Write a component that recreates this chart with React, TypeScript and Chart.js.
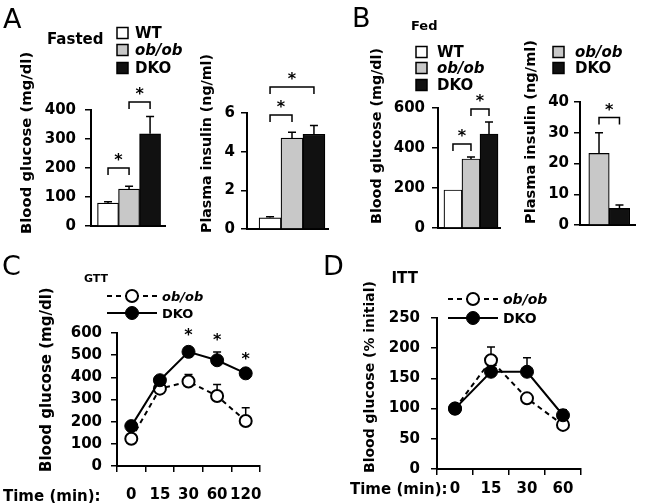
import React, { useEffect, useRef } from 'react';
import { Chart, registerables } from 'chart.js';
Chart.register(...registerables);

const FONT = '"DejaVu Sans", "Liberation Sans", sans-serif';

// ---------------- data ----------------
const groupsAll = ['WT', 'ob/ob', 'DKO'];
const fastedGlucose = [79, 127, 318];
const fastedGlucoseErr = [5, 10, 60];
const fastedGlucoseSig = [[0, 1, 200], [1, 2, 428]];
const fastedInsulin = [0.58, 4.7, 4.9];
const fastedInsulinErr = [0.05, 0.3, 0.45];
const fastedInsulinSig = [[0, 1, 5.9], [0, 2, 7.35]];

const fedGlucose = [190, 345, 470];
const fedGlucoseErr = [0, 10, 60];
const fedGlucoseSig = [[0, 1, 420], [1, 2, 595]];
const groupsMutant = ['ob/ob', 'DKO'];
const fedInsulin = [23.3, 5.4];
const fedInsulinErr = [6.7, 1.1];
const fedInsulinSig = [[0, 1, 35]];

const gttTimes = ['0', '15', '30', '60', '120'];
const gttObOb = [123, 349, 381, 316, 203];
const gttObObErr = [0, 0, 32, 52, 60];
const gttDko = [180, 387, 515, 477, 418];
const gttDkoErr = [12, 12, 18, 37, 8];
const gttSig = [false, false, true, true, true];

const ittTimes = ['0', '15', '30', '60'];
const ittObOb = [100, 180, 117, 73];
const ittObObErr = [0, 22, 0, 0];
const ittDko = [100, 161, 161, 89];
const ittDkoErr = [0, 0, 23, 9];

// ---------------- styles ----------------
const GROUP_COLORS: Record<string, string> = { WT: '#ffffff', 'ob/ob': '#c8c8c8', DKO: '#111111' };
const tickFont = { family: FONT, size: 15, weight: 'bold' as const };

type Rect = { x: number; y: number; w: number; h: number };
type Area = { l: number; t: number; r: number; b: number };

function layoutFor(rect: Rect, area: Area) {
  return {
    padding: { left: 0, top: area.t - rect.y, right: rect.x + rect.w - area.r, bottom: 0 },
    yWidth: area.l - rect.x,
    xHeight: rect.y + rect.h - area.b,
  };
}

function yScaleOpts(max: number, step: number, yWidth: number, pad: number) {
  return {
    min: 0,
    max,
    ticks: { stepSize: step, color: '#000', font: tickFont, padding: pad },
    grid: { display: true, drawOnChartArea: false, drawTicks: true, tickLength: 6, color: '#000', lineWidth: 1.5 },
    border: { display: true, color: '#000', width: 2 },
    afterFit: (s: any) => { s.width = yWidth; },
  };
}

const vTitlePlugin = (text: string, x: number, bottom: number, size: number) => ({
  id: 'vtitle',
  afterDraw(chart: any) {
    const ctx = chart.ctx;
    ctx.save();
    ctx.translate(x, bottom);
    ctx.rotate(-Math.PI / 2);
    ctx.font = `bold ${size}px ${FONT}`;
    ctx.fillStyle = '#000';
    ctx.textAlign = 'left';
    ctx.textBaseline = 'middle';
    ctx.fillText(text, 0, 0);
    ctx.restore();
  },
});

const errPlugin = (errs: number[][], cap = 8) => ({
  id: 'errbars',
  beforeDatasetsDraw(chart: any) {
    const ctx = chart.ctx;
    const ys = chart.scales.y;
    ctx.save();
    ctx.strokeStyle = '#000';
    ctx.lineWidth = 1.5;
    chart.data.datasets.forEach((ds: any, di: number) => {
      const meta = chart.getDatasetMeta(di);
      meta.data.forEach((el: any, i: number) => {
        const e = errs[di] ? errs[di][i] : 0;
        if (!e) return;
        const raw = ds.data[i];
        const val = typeof raw === 'number' ? raw : raw.y;
        const x = el.x;
        const y0 = ys.getPixelForValue(val);
        const y1 = ys.getPixelForValue(val + e);
        ctx.beginPath();
        ctx.moveTo(x, y0);
        ctx.lineTo(x, y1);
        ctx.moveTo(x - cap / 2, y1);
        ctx.lineTo(x + cap / 2, y1);
        ctx.stroke();
      });
    });
    ctx.restore();
  },
});

const drawStar = (ctx: any, x: number, cy: number) => {
  ctx.font = `bold 16px ${FONT}`;
  ctx.textAlign = 'center';
  ctx.textBaseline = 'alphabetic';
  ctx.fillStyle = '#000';
  ctx.fillText('*', x, cy + 0.59 * 16);
};

const bracketPlugin = (sig: number[][]) => ({
  id: 'brackets',
  afterDatasetsDraw(chart: any) {
    const ctx = chart.ctx;
    const ys = chart.scales.y;
    const meta = chart.getDatasetMeta(0);
    ctx.save();
    ctx.strokeStyle = '#000';
    ctx.lineWidth = 1.5;
    for (const [i, j, lvl] of sig) {
      const xi = meta.data[i].x;
      const xj = meta.data[j].x;
      const y = ys.getPixelForValue(lvl);
      ctx.beginPath();
      ctx.moveTo(xi, y + 7);
      ctx.lineTo(xi, y);
      ctx.lineTo(xj, y);
      ctx.lineTo(xj, y + 7);
      ctx.stroke();
      drawStar(ctx, (xi + xj) / 2, y - 12);
    }
    ctx.restore();
  },
});

const starPlugin = (flags: boolean[], errs: number[][], gap = 17) => ({
  id: 'stars',
  afterDatasetsDraw(chart: any) {
    const ctx = chart.ctx;
    const ys = chart.scales.y;
    const xs = chart.scales.x;
    ctx.save();
    flags.forEach((f, i) => {
      if (!f) return;
      let top = -Infinity;
      chart.data.datasets.forEach((ds: any, di: number) => {
        top = Math.max(top, ds.data[i] + (errs[di][i] || 0));
      });
      drawStar(ctx, xs.getPixelForValue(i), ys.getPixelForValue(top) - gap);
    });
    ctx.restore();
  },
});

const boxLegendPlugin = (labels: string[], x: number, rows: number[], textX: number, size = 15) => ({
  id: 'boxlegend',
  afterDraw(chart: any) {
    const ctx = chart.ctx;
    ctx.save();
    labels.forEach((lab, i) => {
      const y = rows[i];
      ctx.fillStyle = GROUP_COLORS[lab];
      ctx.fillRect(x, y - 5.5, 11, 11);
      ctx.strokeStyle = '#000';
      ctx.lineWidth = 1.5;
      ctx.strokeRect(x, y - 5.5, 11, 11);
      ctx.fillStyle = '#000';
      ctx.font = `${lab.includes('/') ? 'italic ' : ''}bold ${size}px ${FONT}`;
      ctx.textAlign = 'left';
      ctx.textBaseline = 'alphabetic';
      ctx.fillText(lab, textX, y + 0.36 * size);
    });
    ctx.restore();
  },
});

const lineLegendPlugin = (x1: number, x2: number, rows: number[], textX: number, size: number) => ({
  id: 'linelegend',
  afterDraw(chart: any) {
    const ctx = chart.ctx;
    ctx.save();
    chart.data.datasets.forEach((ds: any, i: number) => {
      const y = rows[i];
      ctx.strokeStyle = '#000';
      ctx.lineWidth = ds.borderWidth;
      ctx.setLineDash(ds.borderDash || []);
      ctx.beginPath();
      ctx.moveTo(x1, y);
      ctx.lineTo(x2, y);
      ctx.stroke();
      ctx.setLineDash([]);
      ctx.beginPath();
      ctx.arc((x1 + x2) / 2, y, ds.pointRadius, 0, Math.PI * 2);
      ctx.fillStyle = ds.pointBackgroundColor;
      ctx.fill();
      ctx.lineWidth = ds.pointBorderWidth;
      ctx.stroke();
      ctx.fillStyle = '#000';
      ctx.font = `${ds.label.includes('/') ? 'italic ' : ''}bold ${size}px ${FONT}`;
      ctx.textAlign = 'left';
      ctx.textBaseline = 'alphabetic';
      ctx.fillText(ds.label, textX, y + 0.36 * size);
    });
    ctx.restore();
  },
});

function barConfig(rect: Rect, area: Area, o: any) {
  const L = layoutFor(rect, area);
  // one category step in pixels on the linear index axis
  const unitPx = (area.r - area.l) / (o.xMax - o.xMin);
  return {
    type: 'bar',
    data: {
      datasets: [
        {
          data: o.cats.map((c: string, i: number) => ({ x: i, y: o.vals[i] })),
          backgroundColor: o.cats.map((c: string) => GROUP_COLORS[c]),
          borderColor: '#000',
          borderWidth: 1.2,
          barThickness: unitPx,
        },
      ],
    },
    options: {
      animation: false,
      responsive: false,
      maintainAspectRatio: false,
      layout: { padding: L.padding },
      plugins: { legend: { display: false }, tooltip: { enabled: false } },
      scales: {
        x: {
          type: 'linear',
          offset: false,
          min: o.xMin,
          max: o.xMax,
          ticks: { display: false },
          grid: { display: false, offset: false },
          border: { display: true, color: '#000', width: 2 },
          afterFit: (s: any) => { s.height = L.xHeight; },
        },
        y: yScaleOpts(o.yMax, o.yStep, L.yWidth, o.tickPad),
      },
    },
    plugins: [
      errPlugin([o.errs]),
      bracketPlugin(o.sig),
      vTitlePlugin(o.yTitle, o.titleX - rect.x, o.titleBottom - rect.y, o.titleSize),
      ...(o.legend
        ? [boxLegendPlugin(o.cats, o.legend.x - rect.x, o.legend.rows.map((r: number) => r - rect.y), o.legend.textX - rect.x)]
        : []),
    ],
  };
}

function lineConfig(rect: Rect, area: Area, o: any) {
  const L = layoutFor(rect, area);
  return {
    type: 'line',
    data: {
      labels: o.cats,
      datasets: [
        {
          label: 'ob/ob',
          data: o.obob,
          borderColor: '#000',
          borderWidth: 2,
          borderDash: [5, 4],
          pointRadius: 6,
          pointBackgroundColor: '#ffffff',
          pointBorderColor: '#000',
          pointBorderWidth: 2,
          tension: 0,
          order: 1,
        },
        {
          label: 'DKO',
          data: o.dko,
          borderColor: '#000',
          borderWidth: 2,
          pointRadius: 6.5,
          pointBackgroundColor: '#000',
          pointBorderColor: '#000',
          pointBorderWidth: 1,
          tension: 0,
          order: 0,
        },
      ],
    },
    options: {
      animation: false,
      responsive: false,
      maintainAspectRatio: false,
      layout: { padding: L.padding },
      plugins: { legend: { display: false }, tooltip: { enabled: false } },
      scales: {
        x: {
          type: 'category',
          offset: true,
          ticks: { color: '#000', font: tickFont, padding: o.xPad, maxRotation: 0, autoSkip: false },
          grid: { display: true, offset: true, drawOnChartArea: false, drawTicks: true, tickLength: 6, color: '#000', lineWidth: 1.5 },
          border: { display: true, color: '#000', width: 2 },
          afterFit: (s: any) => { s.height = L.xHeight; },
        },
        y: yScaleOpts(o.yMax, o.yStep, L.yWidth, o.tickPad),
      },
    },
    plugins: [
      errPlugin([o.obobErr, o.dkoErr]),
      ...(o.sig ? [starPlugin(o.sig, [o.obobErr, o.dkoErr])] : []),
      vTitlePlugin(o.yTitle, o.titleX - rect.x, o.titleBottom - rect.y, o.titleSize),
      lineLegendPlugin(o.legend.x1 - rect.x, o.legend.x2 - rect.x, o.legend.rows.map((r: number) => r - rect.y), o.legend.textX - rect.x, o.legend.size),
    ],
  };
}

function ChartCanvas({ rect, config }: { rect: Rect; config: any }) {
  const ref = useRef<HTMLCanvasElement>(null);
  useEffect(() => {
    const chart = new Chart(ref.current as HTMLCanvasElement, config);
    return () => chart.destroy();
  }, []);
  return (
    <canvas
      ref={ref}
      width={rect.w}
      height={rect.h}
      style={{ position: 'absolute', left: rect.x, top: rect.y, width: rect.w, height: rect.h }}
    />
  );
}

function Txt({ x, capTop, size, bold = true, children }: any) {
  return (
    <div
      style={{
        position: 'absolute',
        left: x,
        top: capTop - 0.117 * size,
        fontFamily: FONT,
        fontSize: size,
        fontWeight: bold ? 'bold' : 'normal',
        lineHeight: 1,
        whiteSpace: 'nowrap',
        color: '#000',
      }}
    >
      {children}
    </div>
  );
}

const rA1: Rect = { x: 0, y: 0, w: 195, h: 250 };
const rA2: Rect = { x: 190, y: 0, w: 145, h: 250 };
const rB1: Rect = { x: 335, y: 0, w: 185, h: 250 };
const rB2: Rect = { x: 515, y: 0, w: 137, h: 250 };
const rC: Rect = { x: 0, y: 250, w: 300, h: 253 };
const rD: Rect = { x: 326, y: 250, w: 326, h: 253 };

const cfgA1 = barConfig(rA1, { l: 91, t: 110, r: 165, b: 226 }, {
  cats: groupsAll, vals: fastedGlucose, errs: fastedGlucoseErr, sig: fastedGlucoseSig,
  yMax: 400, yStep: 100, xMin: -0.81, xMax: 2.71, tickPad: 9,
  yTitle: 'Blood glucose (mg/dl)', titleX: 27, titleBottom: 234, titleSize: 14.8,
  legend: { x: 117, textX: 135, rows: [33, 50, 68] },
});
const cfgA2 = barConfig(rA2, { l: 247, t: 113, r: 328, b: 229 }, {
  cats: groupsAll, vals: fastedInsulin, errs: fastedInsulinErr, sig: fastedInsulinSig,
  yMax: 6, yStep: 2, xMin: -1.05, xMax: 2.64, tickPad: 6,
  yTitle: 'Plasma insulin (ng/ml)', titleX: 207, titleBottom: 233, titleSize: 14.2,
});
const cfgB1 = barConfig(rB1, { l: 438, t: 108, r: 500, b: 228 }, {
  cats: groupsAll, vals: fedGlucose, errs: fedGlucoseErr, sig: fedGlucoseSig,
  yMax: 600, yStep: 200, xMin: -0.83, xMax: 2.61, tickPad: 7,
  yTitle: 'Blood glucose (mg/dl)', titleX: 377, titleBottom: 224, titleSize: 14.3,
  legend: { x: 416, textX: 437, rows: [52, 68, 85] },
});
const cfgB2 = barConfig(rB2, { l: 580, t: 102, r: 635, b: 225 }, {
  cats: groupsMutant, vals: fedInsulin, errs: fedInsulinErr, sig: fedInsulinSig,
  yMax: 40, yStep: 10, xMin: -0.93, xMax: 1.76, tickPad: 5,
  yTitle: 'Plasma insulin (ng/ml)', titleX: 531, titleBottom: 224, titleSize: 14.6,
  legend: { x: 553, textX: 575, rows: [52, 68] },
});
const cfgC = lineConfig(rC, { l: 117, t: 333, r: 260, b: 466 }, {
  cats: gttTimes, obob: gttObOb, obobErr: gttObObErr, dko: gttDko, dkoErr: gttDkoErr, sig: gttSig,
  yMax: 600, yStep: 100, tickPad: 9, xPad: 14,
  yTitle: 'Blood glucose (mg/dl)', titleX: 47, titleBottom: 472, titleSize: 15,
  legend: { x1: 107, x2: 157, textX: 162, rows: [296, 313], size: 13 },
});
const cfgD = lineConfig(rD, { l: 437, t: 318, r: 581, b: 469 }, {
  cats: ittTimes, obob: ittObOb, obobErr: ittObObErr, dko: ittDko, dkoErr: ittDkoErr,
  yMax: 250, yStep: 50, tickPad: 11, xPad: 5,
  yTitle: 'Blood glucose (% initial)', titleX: 370, titleBottom: 473, titleSize: 14,
  legend: { x1: 448, x2: 498, textX: 503, rows: [299, 318], size: 14 },
});

export default function App() {
  return (
    <div style={{ position: 'absolute', left: 0, top: 0, width: 652, height: 503, background: '#fff', overflow: 'hidden' }}>
      <ChartCanvas rect={rA1} config={cfgA1} />
      <ChartCanvas rect={rA2} config={cfgA2} />
      <ChartCanvas rect={rB1} config={cfgB1} />
      <ChartCanvas rect={rB2} config={cfgB2} />
      <ChartCanvas rect={rC} config={cfgC} />
      <ChartCanvas rect={rD} config={cfgD} />
      <Txt x={3} capTop={8} size={27} bold={false}>A</Txt>
      <Txt x={352} capTop={7} size={27} bold={false}>B</Txt>
      <Txt x={2} capTop={255} size={27} bold={false}>C</Txt>
      <Txt x={323} capTop={255} size={27} bold={false}>D</Txt>
      <Txt x={47} capTop={33.5} size={15}>Fasted</Txt>
      <Txt x={411} capTop={20.3} size={13}>Fed</Txt>
      <Txt x={84} capTop={274} size={11}>GTT</Txt>
      <Txt x={391.5} capTop={272.5} size={15}>ITT</Txt>
      <Txt x={3} capTop={490.5} size={15}>Time (min):</Txt>
      <Txt x={350} capTop={483.5} size={15}>Time (min):</Txt>
    </div>
  );
}
